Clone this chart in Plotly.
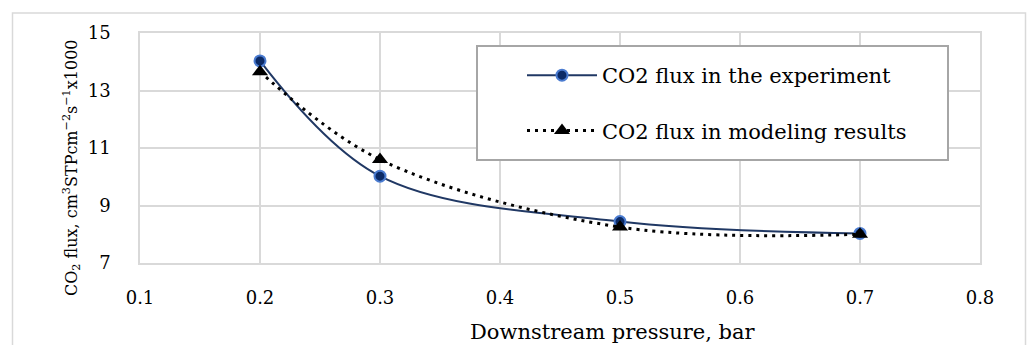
import plotly.graph_objects as go

pressure = [0.2, 0.3, 0.5, 0.7]
flux_experiment = [14.03, 10.02, 8.44, 8.03]
flux_model = [13.65, 10.6, 8.25, 8.0]
x_ticks = [0.1, 0.2, 0.3, 0.4, 0.5, 0.6, 0.7, 0.8]
y_ticks = [7, 9, 11, 13, 15]

FONT = "DejaVu Serif"

W, H = 1027, 345
L, R, T, B = 140, 47, 33, 82
pw = W - L - R
ph = H - T - B


def px_x(p):
    return (p - L) / pw


def px_y(p):
    return (H - B - p) / ph


fig = go.Figure()
fig.add_trace(go.Scatter(
    x=pressure, y=flux_experiment, mode="lines+markers",
    name="CO2 flux in the experiment", legendgroup="exp",
    line=dict(color="#203864", width=2, shape="spline", smoothing=1.0),
    marker=dict(symbol="circle", size=11, color="#0B2A66",
                line=dict(color="#4A7BD0", width=2)),
))
fig.add_trace(go.Scatter(
    x=pressure, y=flux_model, mode="lines+markers",
    name="CO2 flux in modeling results", legendgroup="mod",
    line=dict(color="black", width=3, dash="3px,5px", shape="spline", smoothing=1.0),
    marker=dict(symbol="triangle-up", size=14, color="black"),
))

fig.update_layout(
    width=W, height=H,
    margin=dict(l=L, r=R, t=T, b=B),
    paper_bgcolor="white", plot_bgcolor="white",
    font=dict(family=FONT, size=18, color="black"),
    showlegend=True,
    legend=dict(
        x=px_x(522), y=px_y(55), xanchor="left", yanchor="top",
        bgcolor="rgba(0,0,0,0)", borderwidth=0,
        font=dict(family=FONT, size=21, color="black"),
        itemwidth=70, tracegroupgap=25,
    ),
    xaxis=dict(
        range=[0.1, 0.8], tickvals=x_ticks, ticktext=[f"{v:.1f}" for v in x_ticks],
        showgrid=True, gridcolor="#D9D9D9", gridwidth=1.5,
        showline=True, linecolor="#D9D9D9", linewidth=1.5, mirror=True,
        zeroline=False, ticks="", ticklabelstandoff=18,
        tickfont=dict(family=FONT, size=18),
    ),
    yaxis=dict(
        range=[7, 15], tickvals=y_ticks,
        showgrid=True, gridcolor="#D9D9D9", gridwidth=1.5,
        showline=True, linecolor="#D9D9D9", linewidth=1.5, mirror=True,
        zeroline=False, ticks="", ticklabelstandoff=24,
        tickfont=dict(family=FONT, size=18),
    ),
    annotations=[
        dict(text="Downstream pressure, bar", xref="paper", yref="paper",
             x=px_x(613), y=px_y(332), xanchor="center", yanchor="middle",
             showarrow=False, font=dict(family=FONT, size=21)),
        dict(text="CO<sub>2</sub> flux, cm<sup>3</sup>STPcm<sup>−2</sup>s<sup>−1</sup>x1000",
             xref="paper", yref="paper", x=px_x(71), y=px_y(168),
             xanchor="center", yanchor="middle", textangle=-90,
             showarrow=False, font=dict(family=FONT, size=16)),
    ],
    shapes=[
        dict(type="rect", xref="paper", yref="paper",
             x0=px_x(12.5), x1=px_x(1025.5), y0=px_y(350), y1=px_y(13),
             line=dict(color="#D9D9D9", width=1.5), fillcolor="rgba(0,0,0,0)", layer="below"),
        dict(type="rect", xref="paper", yref="paper",
             x0=px_x(477), x1=px_x(948), y0=px_y(160), y1=px_y(46),
             line=dict(color="#A6A6A6", width=2), fillcolor="white", layer="above"),
    ],
)

fig.write_html("out.html", config={"displayModeBar": False},
               post_script="document.body.style.margin='0';")
